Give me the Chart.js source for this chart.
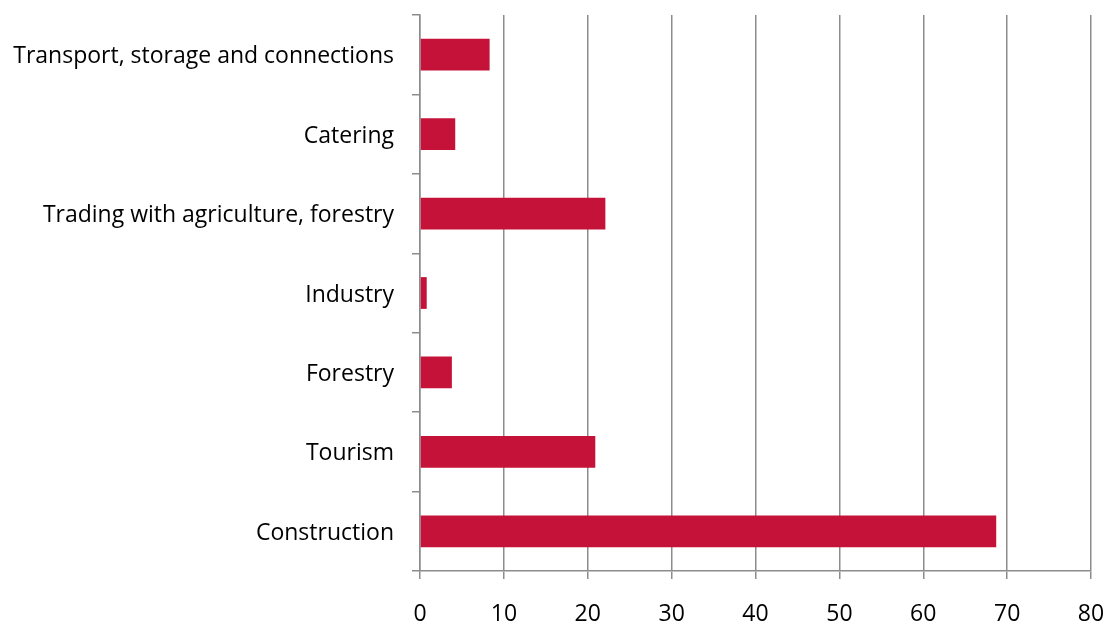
<!DOCTYPE html>
<html>
<head>
<meta charset="utf-8">
<script src="https://cdn.jsdelivr.net/npm/chart.js@4/dist/chart.umd.min.js"></script>
<style>
  html, body { margin: 0; padding: 0; background: #ffffff; }
  #wrap { width: 1107px; height: 626px; position: relative; }
</style>
</head>
<body>
<div id="wrap"><canvas id="c"></canvas></div>
<script>
const categories = [
  "Transport, storage and connections",
  "Catering",
  "Trading with agriculture, forestry",
  "Industry",
  "Forestry",
  "Tourism",
  "Construction"
];
const values = [8.3, 4.2, 22.1, 0.8, 3.8, 20.9, 68.7];
const xTicks = [0, 10, 20, 30, 40, 50, 60, 70, 80];

const gridColor = "#8c8c8c";
const fontSpec = { family: "'Open Sans', 'Noto Sans', sans-serif", size: 23 };

new Chart(document.getElementById("c"), {
  type: "bar",
  data: {
    labels: categories,
    datasets: [{
      data: values,
      backgroundColor: "#C41239",
      borderWidth: 0,
      barPercentage: 0.4,
      categoryPercentage: 1.0
    }]
  },
  options: {
    indexAxis: "y",
    responsive: true,
    maintainAspectRatio: false,
    animation: false,
    layout: { padding: { top: 15, right: 16, bottom: 0, left: 0 } },
    plugins: { legend: { display: false }, tooltip: { enabled: false } },
    scales: {
      x: {
        min: xTicks[0],
        max: xTicks[xTicks.length - 1],
        afterBuildTicks: (s) => { s.ticks = xTicks.map(v => ({ value: v })); },
        afterFit: (s) => { s.height = 55; s.paddingLeft = 0; s.paddingRight = 0; },
        grid: { color: gridColor, lineWidth: 1.5, tickLength: 8, drawTicks: true },
        border: { color: gridColor, width: 1.5 },
        ticks: { color: "#000000", font: fontSpec, padding: 22, maxRotation: 0 }
      },
      y: {
        afterFit: (s) => { s.width = 420; s.paddingTop = 0; s.paddingBottom = 0; },
        grid: { offset: true, drawOnChartArea: false, color: gridColor, lineWidth: 1.5, tickLength: 8 },
        border: { color: gridColor, width: 1.5 },
        ticks: { color: "#000000", font: fontSpec, padding: 18, autoSkip: false, labelOffset: 2 }
      }
    }
  }
});
</script>
</body>
</html>
